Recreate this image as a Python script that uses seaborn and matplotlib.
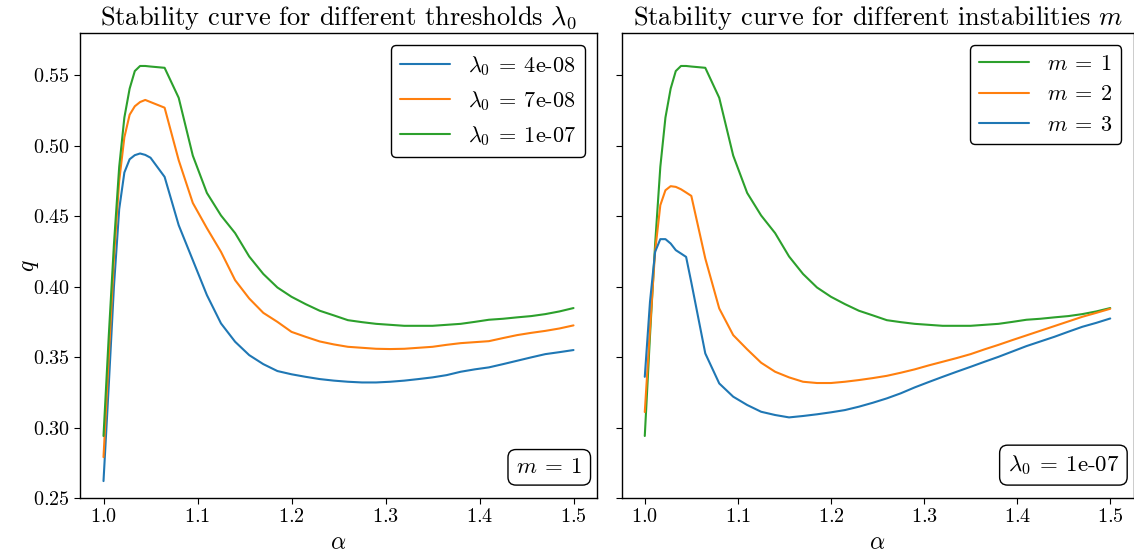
import matplotlib
matplotlib.use("Agg")
import matplotlib.pyplot as plt
import seaborn as sns
import pandas as pd

# ---- data ----
alpha = [1.0, 1.0056, 1.0111, 1.0167, 1.0222, 1.0278, 1.0333, 1.0389, 1.0444, 1.05,
         1.065, 1.08, 1.095, 1.11, 1.125, 1.14, 1.155, 1.17, 1.185, 1.2,
         1.215, 1.23, 1.245, 1.26, 1.275, 1.29, 1.305, 1.32, 1.335, 1.35,
         1.365, 1.38, 1.395, 1.41, 1.425, 1.44, 1.455, 1.47, 1.485, 1.5]

# m = 1, lambda0 = 1e-07 (shared by both panels)
q_m1_l1e07 = [0.294, 0.365, 0.430, 0.485, 0.520, 0.5405, 0.553, 0.5566, 0.5566, 0.5562,
              0.5553, 0.534, 0.493, 0.4665, 0.4505, 0.438, 0.4214, 0.409, 0.3994, 0.3928,
              0.3876, 0.3829, 0.3796, 0.3762, 0.3748, 0.3736, 0.3729, 0.3722, 0.3722, 0.3722,
              0.3729, 0.3736, 0.375, 0.3765, 0.3772, 0.3782, 0.3791, 0.3805, 0.3824, 0.3848]
# m = 1, lambda0 = 7e-08
q_m1_l7e08 = [0.279, 0.350, 0.420, 0.475, 0.506, 0.522, 0.528, 0.531, 0.5325, 0.531,
              0.527, 0.4897, 0.4594, 0.4415, 0.4247, 0.4046, 0.3916, 0.3814, 0.375, 0.3679,
              0.3644, 0.3611, 0.359, 0.3573, 0.3566, 0.3559, 0.3557, 0.3559, 0.3566, 0.3573,
              0.3587, 0.3599, 0.3606, 0.3613, 0.3635, 0.3656, 0.3672, 0.3686, 0.3703, 0.3725]
# m = 1, lambda0 = 4e-08
q_m1_l4e08 = [0.262, 0.330, 0.400, 0.455, 0.481, 0.4904, 0.4933, 0.4945, 0.4935, 0.4915,
              0.4779, 0.4436, 0.4188, 0.394, 0.3739, 0.3609, 0.3514, 0.345, 0.3401, 0.3378,
              0.336, 0.3344, 0.3333, 0.3325, 0.332, 0.332, 0.3325, 0.3333, 0.3344, 0.3356,
              0.3372, 0.3396, 0.3413, 0.3427, 0.345, 0.3474, 0.3498, 0.3521, 0.3535, 0.355]
# m = 2, lambda0 = 1e-07
q_m2_l1e07 = [0.311, 0.370, 0.425, 0.4578, 0.4684, 0.4713, 0.4708, 0.4691, 0.4668, 0.4644,
              0.420, 0.3845, 0.3656, 0.3555, 0.346, 0.3396, 0.3356, 0.3325, 0.3316, 0.3316,
              0.3325, 0.3337, 0.3351, 0.3367, 0.3389, 0.3413, 0.3441, 0.3467, 0.3493, 0.3521,
              0.3555, 0.3587, 0.3621, 0.3654, 0.3687, 0.372, 0.3753, 0.3786, 0.3814, 0.3843]
# m = 3, lambda0 = 1e-07
q_m3_l1e07 = [0.336, 0.3892, 0.4247, 0.4337, 0.4337, 0.4306, 0.4259, 0.4235, 0.4211, 0.403,
              0.3526, 0.3313, 0.3219, 0.316, 0.3112, 0.3089, 0.3072, 0.3082, 0.3094, 0.3108,
              0.3124, 0.3148, 0.3176, 0.3207, 0.3243, 0.3285, 0.3323, 0.336, 0.3396, 0.3431,
              0.3467, 0.3502, 0.354, 0.3578, 0.3611, 0.3644, 0.368, 0.3715, 0.3743, 0.3774]

left_labels = ["4e-08", "7e-08", "1e-07"]
right_labels = ["1", "2", "3"]

BLUE, ORANGE, GREEN = "#1f77b4", "#ff7f0e", "#2ca02c"

# ---- style ----
sns.set_theme(style="ticks")
plt.rcParams.update({
    "font.family": ["cmr10", "DejaVu Serif"],
    "mathtext.fontset": "cm",
    "axes.formatter.use_mathtext": True,
    "axes.edgecolor": "black",
    "axes.linewidth": 1.0,
    "xtick.color": "black",
    "ytick.color": "black",
    "text.color": "black",
    "axes.labelcolor": "black",
    "xtick.major.size": 4,
    "ytick.major.size": 4,
    "xtick.major.width": 0.8,
    "ytick.major.width": 0.8,
})

fig = plt.figure(figsize=(11.34, 5.55), dpi=100)
axL = fig.add_axes([80 / 1134, 57 / 555, 517 / 1134, 465 / 555])
axR = fig.add_axes([621.5 / 1134, 57 / 555, 512 / 1134, 465 / 555], sharey=axL)

left_series = [(q_m1_l4e08, BLUE), (q_m1_l7e08, ORANGE), (q_m1_l1e07, GREEN)]
for (vals, col), lab in zip(left_series, left_labels):
    df = pd.DataFrame({"alpha": alpha, "q": vals})
    sns.lineplot(data=df, x="alpha", y="q", ax=axL, color=col, linewidth=1.5,
                 label=r"$\lambda_0\:=\:$" + lab, sort=False, estimator=None)

right_series = [(q_m1_l1e07, GREEN), (q_m2_l1e07, ORANGE), (q_m3_l1e07, BLUE)]
for (vals, col), lab in zip(right_series, right_labels):
    df = pd.DataFrame({"alpha": alpha, "q": vals})
    sns.lineplot(data=df, x="alpha", y="q", ax=axR, color=col, linewidth=1.5,
                 label=r"$m\:=\:" + lab + r"$", sort=False, estimator=None)

for ax in (axL, axR):
    ax.set_xlim(0.975, 1.525)
    ax.set_xticks([1.0, 1.1, 1.2, 1.3, 1.4, 1.5])
    ax.set_xlabel(r"$\alpha$", fontsize=17, labelpad=4)
    ax.tick_params(labelsize=14.5)
    leg = ax.legend(loc="upper right", fontsize=16, fancybox=True, framealpha=1,
                    edgecolor="black", handlelength=2.25, borderaxespad=0.55)
    leg.get_frame().set_linewidth(1.0)

axL.set_ylim(0.25, 0.58)
axL.set_yticks([0.25, 0.30, 0.35, 0.40, 0.45, 0.50, 0.55])
axL.set_ylabel(r"$q$", fontsize=17, labelpad=-6)
axR.set_ylabel("")
plt.setp(axR.get_yticklabels(), visible=False)

axL.set_title(r"Stability curve for different thresholds $\lambda_0$", fontsize=19)
axR.set_title(r"Stability curve for different instabilities $m$", fontsize=19)

bbox = dict(boxstyle="round,pad=0.35", fc="white", ec="black", lw=1.0)
axL.text(0.972, 0.045, r"$m\:=\:1$", transform=axL.transAxes, ha="right", va="bottom",
         fontsize=16.5, bbox=bbox)
axR.text(0.972, 0.045, r"$\lambda_0\:=\:$1e-07", transform=axR.transAxes, ha="right",
         va="bottom", fontsize=16.5, bbox=bbox)

fig.savefig("out.png", dpi=100)
